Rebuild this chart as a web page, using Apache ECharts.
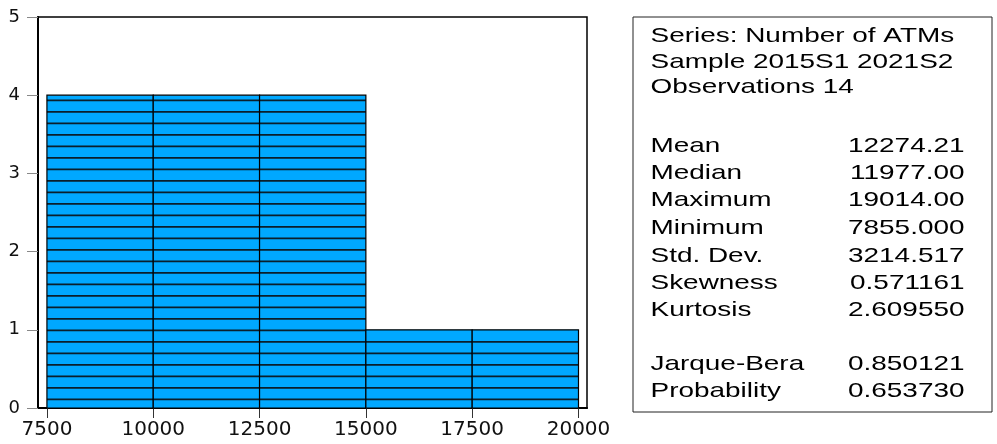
<!DOCTYPE html>
<html>
<head>
<meta charset="utf-8">
<script src="https://cdn.jsdelivr.net/npm/echarts@6/dist/echarts.min.js"></script>
<style>
  html, body { margin: 0; padding: 0; background: #fff; }
  #chart { width: 997px; height: 444px; }
</style>
</head>
<body>
<div id="chart"></div>
<script>
// ---- data ----
const binStarts = [7500, 10000, 12500, 15000, 17500];
const binEnds   = [10000, 12500, 15000, 17500, 20000];
const counts    = [4, 4, 4, 1, 1];
const xTicks    = [7500, 10000, 12500, 15000, 17500, 20000];

const headerLines = ['Series: Number of ATMs', 'Sample 2015S1 2021S2', 'Observations 14'];
const statNames  = ['Mean', 'Median', 'Maximum', 'Minimum', 'Std. Dev.', 'Skewness', 'Kurtosis', '', 'Jarque-Bera', 'Probability'];
const statValues = ['12274.21', '11977.00', '19014.00', '7855.000', '3214.517', '0.571161', '2.609550', '', '0.850121', '0.653730'];

// ---- layout / style ----
const headerY = [35.8, 61.8, 87.5];
const statY = [146.5, 173.2, 200.2, 228.2, 255.8, 283.2, 309.8, 0, 364.2, 390.8];
const boxFont = { fontSize: 21, fontFamily: 'Liberation Sans, Arial, sans-serif', fill: '#000' };
const stretch = 1.33;

const histData = binStarts.map((s, i) => [s, binEnds[i], counts[i]]);

const chart = echarts.init(document.getElementById('chart'), null, { renderer: 'canvas' });

function renderBar(params, api) {
  const x0 = api.value(0), x1 = api.value(1), c = api.value(2);
  const p0 = api.coord([x0, 0]);
  const p1 = api.coord([x1, c]);
  const left = p0[0], right = p1[0], bottom = p0[1], top = p1[1];
  const children = [{
    type: 'rect',
    shape: { x: left, y: top, width: right - left, height: bottom - top },
    style: { fill: '#00A8FF', stroke: null }
  }];
  for (let y = bottom - 8.6; y > top + 1.5; y -= 11.5) {
    children.push({
      type: 'line',
      shape: { x1: left, y1: y, x2: right, y2: y },
      style: { stroke: '#0b1f2b', lineWidth: 1.7 }
    });
  }
  children.push({
    type: 'rect',
    shape: { x: left, y: top, width: right - left, height: bottom - top },
    style: { fill: null, stroke: '#000', lineWidth: 1.2 }
  });
  return { type: 'group', children: children };
}

const graphics = [{
  type: 'rect',
  shape: { x: 633, y: 17, width: 359, height: 395 },
  style: { fill: null, stroke: '#222', lineWidth: 1 }
}];
headerLines.forEach((t, i) => {
  graphics.push({
    type: 'text', x: 650.5, y: headerY[i], scaleX: stretch,
    style: Object.assign({ text: t, align: 'left', verticalAlign: 'middle' }, boxFont)
  });
});
statNames.forEach((t, i) => {
  if (!t) return;
  graphics.push({
    type: 'text', x: 650.5, y: statY[i], scaleX: stretch,
    style: Object.assign({ text: t, align: 'left', verticalAlign: 'middle' }, boxFont)
  });
  graphics.push({
    type: 'text', x: 964.5, y: statY[i], scaleX: stretch,
    style: Object.assign({ text: statValues[i], align: 'right', verticalAlign: 'middle' }, boxFont)
  });
});

chart.setOption({
  animation: false,
  backgroundColor: '#fff',
  textStyle: { fontFamily: 'DejaVu Sans, sans-serif' },
  grid: {
    left: 38, top: 17, right: 410, bottom: 36,
    show: true, borderColor: '#000', borderWidth: 1.5, backgroundColor: 'transparent'
  },
  xAxis: {
    type: 'value',
    min: 7290, max: 20200,
    axisLine: { show: true, lineStyle: { color: '#000', width: 2 } },
    axisTick: { show: true, length: 10, customValues: xTicks, lineStyle: { color: '#333', width: 1 } },
    axisLabel: {
      customValues: xTicks, color: '#111', fontSize: 20, margin: 12, fontFamily: 'DejaVu Sans',
      formatter: function (v) { return String(v); }
    },
    splitLine: { show: false }
  },
  yAxis: {
    type: 'value',
    min: 0, max: 5, interval: 1,
    axisLine: { show: true, lineStyle: { color: '#000', width: 2 } },
    axisTick: { show: true, length: 11, lineStyle: { color: '#888', width: 1 } },
    axisLabel: { color: '#111', fontSize: 18, margin: 18, fontFamily: 'DejaVu Sans', padding: [0, 0, 5, 0] },
    splitLine: { show: false }
  },
  series: [{
    type: 'custom',
    renderItem: renderBar,
    encode: { x: [0, 1], y: 2 },
    data: histData,
    clip: false
  }],
  graphic: graphics
});
</script>
</body>
</html>
